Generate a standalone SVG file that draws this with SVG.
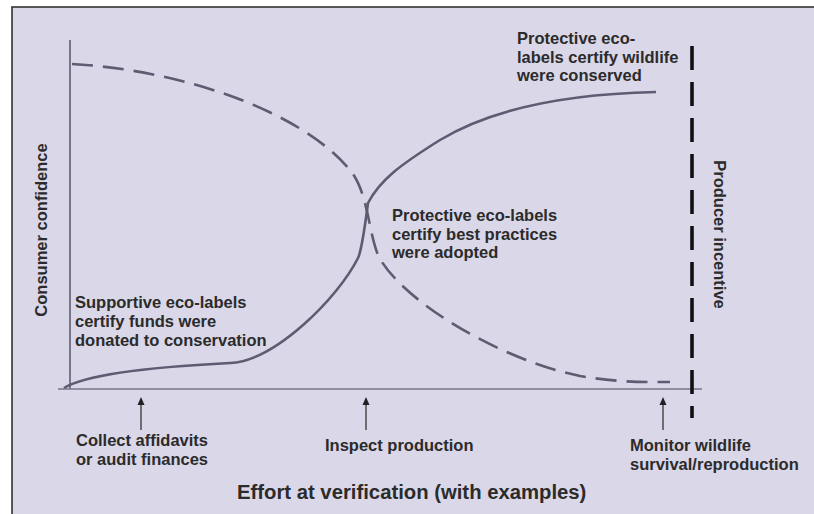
<svg xmlns="http://www.w3.org/2000/svg" width="814" height="514" viewBox="0 0 814 514">
<defs>
<style>
.t{font-family:"Liberation Sans",Arial,sans-serif;font-weight:bold;font-size:16.5px;fill:#2b2b2b}
.title{font-size:20.3px}
.curve{fill:none;stroke:#5e5b72;stroke-width:2.6;stroke-linecap:butt}
.dash{stroke-dasharray:21 10}
.axis{stroke:#78768a;fill:none}
.arr{stroke:#333;stroke-width:1.3}
.head{fill:#222}
</style>
</defs>
<rect x="0" y="0" width="814" height="514" fill="#ffffff"/>
<rect id="frame" x="12" y="7" width="900" height="600" fill="#dad7e8" stroke="#333" stroke-width="1.6"/>

<g id="connectors">
  <line class="axis" x1="70" y1="40" x2="70" y2="389" stroke-width="2"/>
  <line class="axis" x1="58" y1="389" x2="702" y2="389" stroke-width="1.6"/>
  <path class="curve dash" d="M72,64 C180,70 300,110 350,170 C368,192 368,230 378,255 C400,300 500,360 580,376 C620,383 650,382 670,382"/>
  <path class="curve" d="M64,388 C90,372 170,366 230,363 C275,361 338,298 358,258 C362,250 366,218 368,203 C380,180 400,165 440,140 C490,110 560,94 656,92"/>
  <line x1="692" y1="46" x2="692" y2="418" stroke="#111" stroke-width="3.6" stroke-dasharray="24 12"/>
  <line class="arr" x1="141" y1="404" x2="141" y2="430"/>
  <polygon class="head" points="141,397 137.5,405 144.5,405"/>
  <line class="arr" x1="366" y1="404" x2="366" y2="430"/>
  <polygon class="head" points="366,397 362.5,405 369.5,405"/>
  <line class="arr" x1="663" y1="404" x2="663" y2="430"/>
  <polygon class="head" points="663,397 659.5,405 666.5,405"/>
</g>

<g id="consumer-confidence">
  <text class="t" transform="translate(47,230) rotate(-90)" text-anchor="middle">Consumer confidence</text>
</g>
<g id="producer-incentive">
  <text class="t" transform="translate(714,234.5) rotate(90)" text-anchor="middle">Producer incentive</text>
</g>
<g id="supportive-label">
  <text class="t" x="75" y="308">Supportive eco-labels</text>
  <text class="t" x="75" y="327">certify funds were</text>
  <text class="t" x="75" y="346">donated to conservation</text>
</g>
<g id="protective-best-practices">
  <text class="t" x="392" y="221">Protective eco-labels</text>
  <text class="t" x="392" y="240">certify best practices</text>
  <text class="t" x="392" y="258">were adopted</text>
</g>
<g id="protective-wildlife">
  <text class="t" x="517" y="44">Protective eco-</text>
  <text class="t" x="517" y="62.5">labels certify wildlife</text>
  <text class="t" x="517" y="81">were conserved</text>
</g>
<g id="collect">
  <text class="t" x="76" y="446">Collect affidavits</text>
  <text class="t" x="76" y="464.5">or audit finances</text>
</g>
<g id="inspect">
  <text class="t" x="325" y="451">Inspect production</text>
</g>
<g id="monitor">
  <text class="t" x="630" y="451">Monitor wildlife</text>
  <text class="t" x="630" y="469.5">survival/reproduction</text>
</g>
<g id="x-title">
  <text class="t title" x="237" y="499">Effort at verification (with examples)</text>
</g>
</svg>
